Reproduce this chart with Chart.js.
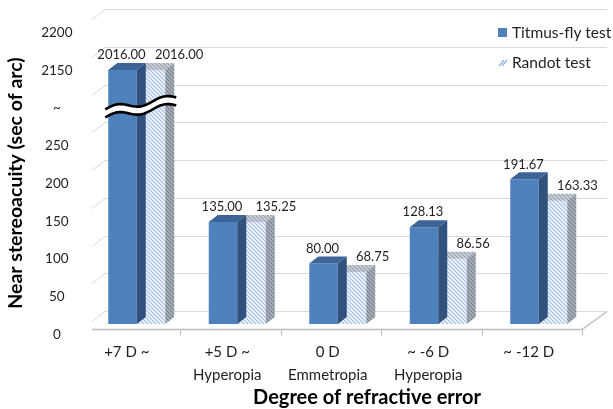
<!DOCTYPE html>
<html>
<head>
<meta charset="utf-8">
<script src="https://cdn.jsdelivr.net/npm/chart.js@4.4.1/dist/chart.umd.min.js"></script>
<style>
  html, body { margin: 0; padding: 0; background: #ffffff; }
  #wrap { width: 613px; height: 409px; }
</style>
</head>
<body>
<div id="wrap"><canvas id="chart" width="613" height="409"></canvas></div>
<script>
// Categories (two-line labels) and measured stereoacuity, sec of arc
const categories = [
  ['+7 D ~', ''],
  ['+5 D ~', 'Hyperopia'],
  ['0 D', 'Emmetropia'],
  ['~ -6 D', 'Hyperopia'],
  ['~ -12 D', '']
];
const titmusFly = [2016.00, 135.00, 80.00, 128.13, 191.67];
const randot    = [2016.00, 135.25, 68.75, 86.56, 163.33];
const seriesNames = ['Titmus-fly test', 'Randot test'];
const tickLabels = ['0', '50', '100', '150', '200', '250', '~', '2150', '2200'];

// Broken value axis: [value, axis position] knots, linear in between
const axisBreaks = [[0, 0], [300, 300], [2000, 335], [2150, 350], [2200, 400]];
const breakMarkAt = 287;

function toAxis(v) {
  for (let i = 1; i < axisBreaks.length; i++) {
    const [v0, p0] = axisBreaks[i - 1];
    const [v1, p1] = axisBreaks[i];
    if (v <= v1) return p0 + (v - v0) * (p1 - p0) / (v1 - v0);
  }
  return axisBreaks[axisBreaks.length - 1][1];
}

const FONT = 'Lato, "Open Sans", "DejaVu Sans", sans-serif';
const BLUE = '#4f81bd';

// Diagonal hatch tiles for the Randot bars and their shaded faces
function hatch(bg, fg, lw) {
  const c = document.createElement('canvas');
  c.width = 4; c.height = 4;
  const g = c.getContext('2d');
  g.fillStyle = bg; g.fillRect(0, 0, 4, 4);
  g.strokeStyle = fg; g.lineWidth = lw;
  for (const k of [-4, 0, 4]) {
    g.beginPath(); g.moveTo(k - 1, -1); g.lineTo(k + 5, 5); g.stroke();
  }
  return g.createPattern(c, 'repeat');
}
const ctx0 = document.getElementById('chart').getContext('2d');
const hatchFront = hatch('#f2f6fc', '#9ebde6', 1.1);
const hatchTop   = hatch('#c9d0d9', '#97a1ad', 1.1);
const hatchSide  = hatch('#a9b1bb', '#78828d', 1.1);

const DEPTH_DX = 9, DEPTH_DY = -7;     // bar depth offset
const WALL_UP = 13;                     // back wall above bar plane
const FLOOR_DOWN = 5;                   // floor front edge below bar plane

const faceColors = [
  { top: '#3c6496', side: '#30527d' },
  { top: hatchTop, side: hatchSide }
];

const scene = {
  id: 'scene3d',
  beforeDatasetsDraw(chart) {
    const { ctx } = chart;
    const y = chart.scales.y, x = chart.scales.x;
    const wallLeft = 105, wallRight = 607, sideFront = 92;
    ctx.save();
    // side wall and back wall gridlines
    ctx.strokeStyle = '#d9d9d9';
    ctx.lineWidth = 1;
    for (let p = 0; p <= 400; p += 50) {
      const yb = Math.round(y.getPixelForValue(p) - WALL_UP) + 0.5;
      ctx.beginPath();
      ctx.moveTo(sideFront, yb + 10);
      ctx.lineTo(wallLeft, yb);
      ctx.lineTo(wallRight, yb);
      ctx.stroke();
    }
    // floor front edge, right edge and category ticks
    const yf = Math.round(y.getPixelForValue(0) + FLOOR_DOWN) + 0.5;
    const yb0 = Math.round(y.getPixelForValue(0) - WALL_UP) + 0.5;
    const shift = -7;
    const n = chart.data.labels.length;
    const step = (x.right - x.left) / n;
    const floorRight = x.right + shift;
    ctx.strokeStyle = '#bfbfbf';
    ctx.lineWidth = 1.5;
    ctx.beginPath();
    ctx.moveTo(sideFront, yf);
    ctx.lineTo(floorRight, yf);
    ctx.lineTo(wallRight, yb0);
    ctx.stroke();
    ctx.lineWidth = 1;
    for (let i = 1; i <= n; i++) {
      const tx = Math.round(x.left + step * i + shift) + 0.5;
      ctx.beginPath();
      ctx.moveTo(tx, yf);
      ctx.lineTo(tx, yf + 6);
      ctx.stroke();
    }
    ctx.restore();
  },
  afterDatasetDraw(chart, args) {
    const { ctx } = chart;
    const meta = chart.getDatasetMeta(args.index);
    const col = faceColors[args.index];
    ctx.save();
    meta.data.forEach((bar) => {
      const L = bar.x - bar.width / 2, R = bar.x + bar.width / 2;
      const T = bar.y, B = bar.base;
      // top face
      ctx.fillStyle = col.top;
      ctx.beginPath();
      ctx.moveTo(L, T); ctx.lineTo(R, T);
      ctx.lineTo(R + DEPTH_DX, T + DEPTH_DY); ctx.lineTo(L + DEPTH_DX, T + DEPTH_DY);
      ctx.closePath(); ctx.fill();
      // side face
      ctx.fillStyle = col.side;
      ctx.beginPath();
      ctx.moveTo(R, T); ctx.lineTo(R + DEPTH_DX, T + DEPTH_DY);
      ctx.lineTo(R + DEPTH_DX, B + DEPTH_DY); ctx.lineTo(R, B);
      ctx.closePath(); ctx.fill();
    });
    ctx.restore();
  },
  afterDatasetsDraw(chart) {
    const { ctx } = chart;
    const y = chart.scales.y;
    ctx.save();

    // axis break drawn across bars that exceed the break
    const m0 = chart.getDatasetMeta(0), m1 = chart.getDatasetMeta(1);
    const brk = toAxis(breakMarkAt);
    titmusFly.forEach((v, i) => {
      if (toAxis(v) <= brk) return;
      const b0 = m0.data[i], b1 = m1.data[i];
      const x0 = b0.x - b0.width / 2 - 3;
      const x1 = b1.x + b1.width / 2 + DEPTH_DX + 2;
      const yc = y.getPixelForValue(brk);
      const up = [], lo = [];
      const N = 40;
      for (let k = 0; k <= N; k++) {
        const t = k / N;
        const px = x0 + (x1 - x0) * t;
        const py = yc + 6 - 12 * t - 3 * Math.sin(2 * Math.PI * 1.5 * t);
        up.push([px, py - 4]);
        lo.push([px, py + 4]);
      }
      ctx.fillStyle = '#ffffff';
      ctx.beginPath();
      up.forEach(([px, py], k) => k ? ctx.lineTo(px, py) : ctx.moveTo(px, py));
      for (let k = lo.length - 1; k >= 0; k--) ctx.lineTo(lo[k][0], lo[k][1]);
      ctx.closePath(); ctx.fill();
      ctx.strokeStyle = '#000000';
      ctx.lineWidth = 2.6;
      for (const line of [up, lo]) {
        ctx.beginPath();
        line.forEach(([px, py], k) => k ? ctx.lineTo(px, py) : ctx.moveTo(px, py));
        ctx.stroke();
      }
    });

    // value labels
    ctx.font = '13px ' + FONT;
    ctx.fillStyle = '#1f1f1f';
    ctx.textBaseline = 'middle';
    [titmusFly, randot].forEach((vals, di) => {
      const meta = chart.getDatasetMeta(di);
      vals.forEach((v, i) => {
        const bar = meta.data[i];
        const text = v.toFixed(2);
        if (di === 0) {
          ctx.textAlign = 'center';
          ctx.fillText(text, bar.x - 1, bar.y - 15);
        } else {
          ctx.textAlign = 'left';
          ctx.fillText(text, bar.x + 4, bar.y - 15);
        }
      });
    });

    // legend
    ctx.font = '15.5px ' + FONT;
    ctx.textAlign = 'left';
    ctx.fillStyle = BLUE;
    ctx.fillRect(498, 28, 9, 9);
    ctx.fillStyle = '#1f1f1f';
    ctx.fillText(seriesNames[0], 512, 32.5);
    ctx.fillStyle = '#ffffff';
    ctx.fillRect(498, 58, 9, 9);
    ctx.strokeStyle = '#8fb0de';
    ctx.lineWidth = 1.2;
    ctx.beginPath();
    ctx.moveTo(499, 66); ctx.lineTo(504, 60);
    ctx.moveTo(502, 66); ctx.lineTo(507, 60);
    ctx.stroke();
    ctx.fillStyle = '#1f1f1f';
    ctx.fillText(seriesNames[1], 512, 62.5);

    // axis titles
    ctx.font = 'bold 20px ' + FONT;
    ctx.fillStyle = '#000000';
    ctx.textAlign = 'center';
    ctx.fillText('Degree of refractive error', 367, 398);
    ctx.font = 'bold 19.5px ' + FONT;
    ctx.translate(16, 183);
    ctx.rotate(-Math.PI / 2);
    ctx.fillText('Near stereoacuity (sec of arc)', 0, 0);
    ctx.restore();
  }
};

new Chart(ctx0, {
  type: 'bar',
  data: {
    labels: categories,
    datasets: [
      { label: seriesNames[0], data: titmusFly.map(toAxis), backgroundColor: BLUE, borderWidth: 0 },
      { label: seriesNames[1], data: randot.map(toAxis), backgroundColor: hatchFront, borderWidth: 0 }
    ]
  },
  options: {
    responsive: false,
    animation: false,
    devicePixelRatio: 1,
    layout: { padding: { left: 0, right: 24, top: 21, bottom: 0 } },
    datasets: { bar: { categoryPercentage: 0.567, barPercentage: 1.0 } },
    plugins: { legend: { display: false }, tooltip: { enabled: false } },
    scales: {
      x: {
        grid: { display: false, drawTicks: false },
        border: { display: false },
        ticks: {
          color: '#1f1f1f',
          font: { family: FONT, size: 15, lineHeight: 1.53 },
          padding: 16.5,
          labelOffset: -10,
          maxRotation: 0,
          autoSkip: false
        },
        afterFit(s) { s.height = 85; }
      },
      y: {
        min: 0, max: 400,
        grid: { display: false, drawTicks: false },
        border: { display: false },
        ticks: {
          stepSize: 50,
          color: '#1f1f1f',
          font: { family: FONT, size: 13.5 },
          crossAlign: 'center',
          padding: 14,
          labelOffset: 10.5,
          callback: (v, i) => tickLabels[i]
        },
        afterFit(s) { s.width = 86.5; }
      }
    }
  },
  plugins: [scene]
});
</script>
</body>
</html>
